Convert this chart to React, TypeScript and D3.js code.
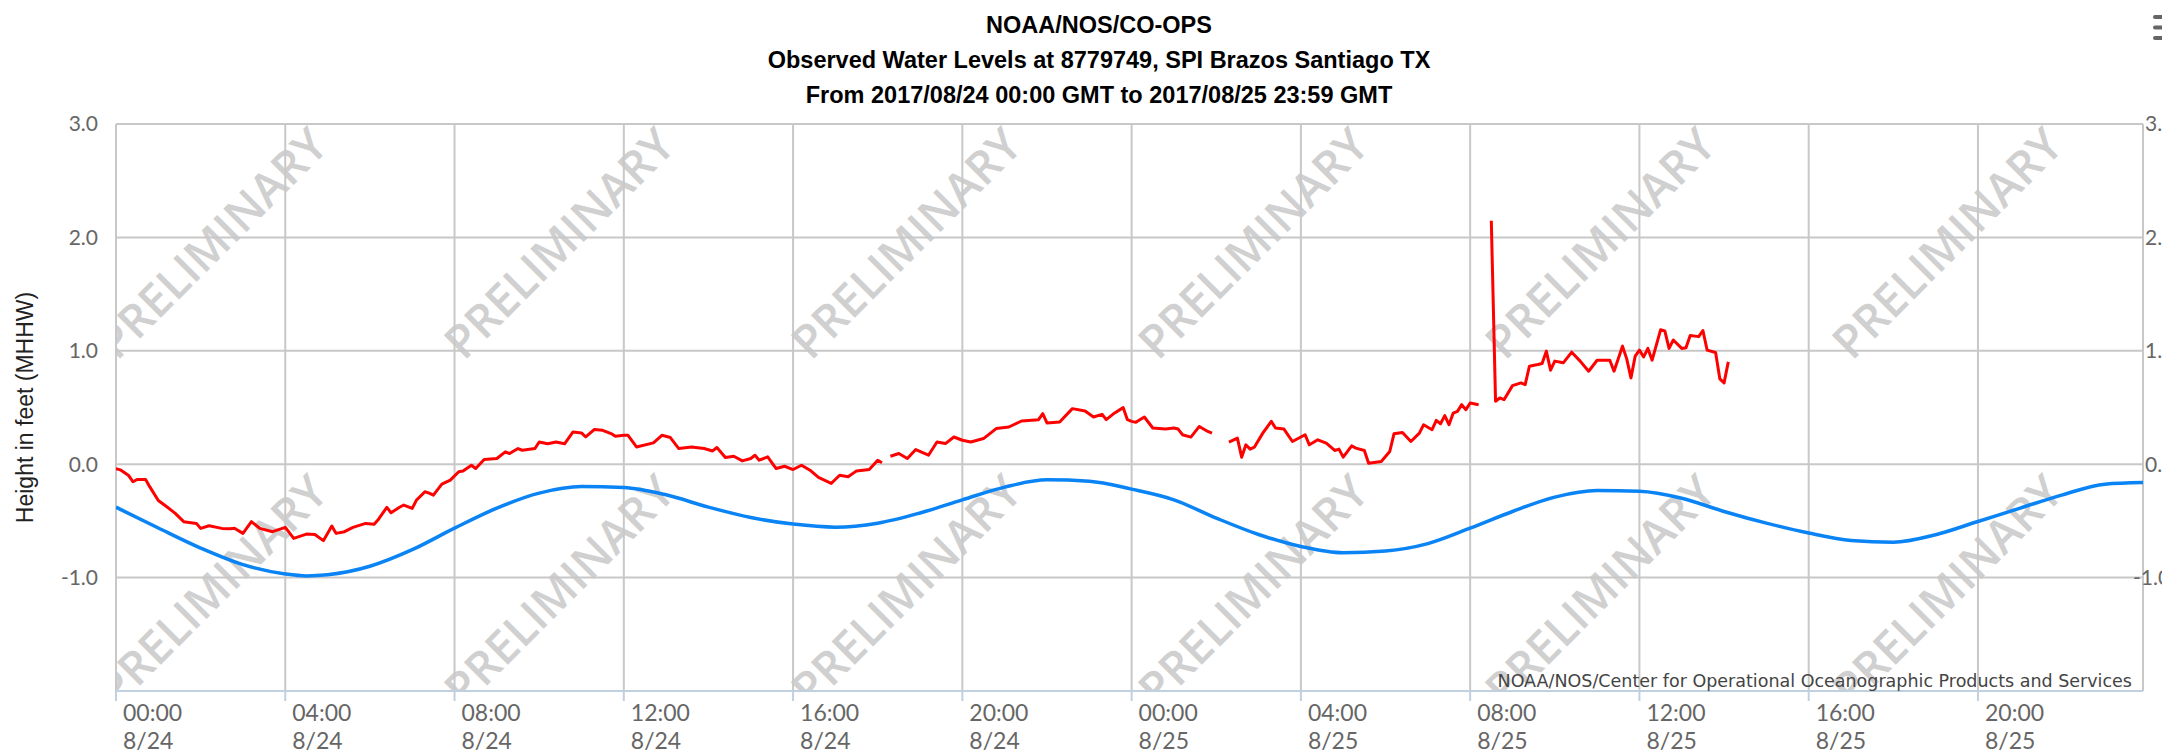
import React from "react";
import * as d3 from "d3";

// ---------- data ----------
const TITLE_LINES = [
  "NOAA/NOS/CO-OPS",
  "Observed Water Levels at 8779749, SPI Brazos Santiago TX",
  "From 2017/08/24 00:00 GMT to 2017/08/25 23:59 GMT",
];
const Y_TITLE = "Height in feet (MHHW)";
const CREDIT = "NOAA/NOS/Center for Operational Oceanographic Products and Services";
const WATERMARK = "PRELIMINARY";

const X_START = "2017-08-24 00:00";
const X_END = "2017-08-25 23:54";
const Y_TICKS = [-2, -1, 0, 1, 2, 3];
const Y_LABELS = [-1, 0, 1, 2, 3];

// Predicted tide (blue), GMT
const PRED_TIMES = [
  "24 00:00", "24 01:00", "24 02:00", "24 03:00", "24 04:00", "24 04:30", "24 05:00", "24 06:00",
  "24 07:00", "24 08:00", "24 09:00", "24 10:00", "24 11:00", "24 12:00", "24 13:00", "24 14:00",
  "24 15:00", "24 16:00", "24 17:00", "24 18:00", "24 19:00", "24 20:00", "24 21:00", "24 22:00",
  "24 23:00", "25 00:00", "25 01:00", "25 02:00", "25 03:00", "25 04:00", "25 05:00", "25 06:00",
  "25 07:00", "25 08:00", "25 09:00", "25 10:00", "25 11:00", "25 12:00", "25 13:00", "25 14:00",
  "25 15:00", "25 16:00", "25 17:00", "25 18:00", "25 19:00", "25 20:00", "25 21:00", "25 22:00",
  "25 23:00", "25 23:54",
];
const PRED_VALUES = [
  -0.379, -0.563, -0.74, -0.886, -0.968, -0.985, -0.975, -0.9,
  -0.754, -0.564, -0.387, -0.255, -0.197, -0.205, -0.27, -0.379,
  -0.47, -0.528, -0.555, -0.52, -0.43, -0.314, -0.202, -0.138,
  -0.15, -0.22, -0.314, -0.475, -0.62, -0.725, -0.78, -0.765,
  -0.7, -0.564, -0.417, -0.29, -0.232, -0.238, -0.3, -0.417,
  -0.52, -0.607, -0.672, -0.688, -0.622, -0.505, -0.387, -0.27,
  -0.176, -0.162,
];

// Observed water level (red), GMT; null = missing data
const OBS_TIMES = [
  "24 00:00", "24 00:06", "24 00:18", "24 00:24", "24 00:30", "24 00:42", "24 00:48", "24 01:00",
  "24 01:12", "24 01:24", "24 01:36", "24 01:54", "24 02:00", "24 02:12", "24 02:30", "24 02:42",
  "24 02:48", "24 03:00", "24 03:12", "24 03:24", "24 03:42", "24 04:00", "24 04:12", "24 04:30",
  "24 04:42", "24 04:54", "24 05:06", "24 05:12", "24 05:24", "24 05:36", "24 05:54", "24 06:06",
  "24 06:12", "24 06:24", "24 06:30", "24 06:42", "24 06:48", "24 07:00", "24 07:06", "24 07:18",
  "24 07:24", "24 07:30", "24 07:42", "24 07:54", "24 08:06", "24 08:12", "24 08:24", "24 08:30",
  "24 08:42", "24 09:00", "24 09:12", "24 09:18", "24 09:30", "24 09:36", "24 09:54", "24 10:00",
  "24 10:12", "24 10:24", "24 10:36", "24 10:48", "24 11:00", "24 11:06", "24 11:18", "24 11:30",
  "24 11:42", "24 11:48", "24 12:00", "24 12:06", "24 12:18", "24 12:42", "24 12:54", "24 13:06",
  "24 13:18", "24 13:36", "24 13:54", "24 14:06", "24 14:12", "24 14:24", "24 14:36", "24 14:48",
  "24 15:00", "24 15:06", "24 15:12", "24 15:24", "24 15:36", "24 15:48", "24 16:00", "24 16:12",
  "24 16:24", "24 16:36", "24 16:54", "24 17:06", "24 17:18", "24 17:30", "24 17:48", "24 18:00",
  "24 18:06", "24 18:12", "24 18:18", "24 18:30", "24 18:42", "24 18:54", "24 19:12", "24 19:24",
  "24 19:36", "24 19:48", "24 20:00", "24 20:12", "24 20:30", "24 20:48", "24 21:06", "24 21:24",
  "24 21:48", "24 21:54", "24 22:00", "24 22:18", "24 22:36", "24 22:54", "24 23:06", "24 23:18",
  "24 23:24", "24 23:36", "24 23:48", "24 23:54",
  "25 00:00", "25 00:06", "25 00:18", "25 00:30", "25 00:48", "25 01:00", "25 01:06", "25 01:12",
  "25 01:24", "25 01:36", "25 01:48", "25 01:54", "25 02:00", "25 02:18", "25 02:30", "25 02:36",
  "25 02:42", "25 02:48", "25 02:54", "25 03:06", "25 03:18", "25 03:24", "25 03:36", "25 03:48",
  "25 04:06", "25 04:12", "25 04:24", "25 04:36", "25 04:48", "25 04:54", "25 05:00", "25 05:12",
  "25 05:18", "25 05:30", "25 05:36", "25 05:54", "25 06:06", "25 06:12", "25 06:24", "25 06:36",
  "25 06:48", "25 06:54", "25 07:06", "25 07:12", "25 07:18", "25 07:24", "25 07:30", "25 07:36",
  "25 07:42", "25 07:48", "25 07:54", "25 08:00", "25 08:12", "25 08:18", "25 08:30", "25 08:36",
  "25 08:42", "25 08:48", "25 09:00", "25 09:12", "25 09:18", "25 09:24", "25 09:36", "25 09:42",
  "25 09:48", "25 09:54", "25 10:00", "25 10:12", "25 10:24", "25 10:36", "25 10:48", "25 11:00",
  "25 11:18", "25 11:24", "25 11:36", "25 11:42", "25 11:48", "25 11:54", "25 12:00", "25 12:06",
  "25 12:12", "25 12:18", "25 12:30", "25 12:36", "25 12:42", "25 12:48", "25 13:00", "25 13:06",
  "25 13:12", "25 13:24", "25 13:30", "25 13:36", "25 13:48", "25 13:54", "25 14:00", "25 14:06",
];
const OBS_VALUES: (number | null)[] = [
  -0.04, -0.05, -0.1, -0.155, -0.135, -0.135, -0.2, -0.32,
  -0.375, -0.434, -0.507, -0.522, -0.566, -0.543, -0.566, -0.57,
  -0.565, -0.61, -0.507, -0.566, -0.595, -0.557, -0.654, -0.616,
  -0.62, -0.674, -0.545, -0.61, -0.595, -0.557, -0.522, -0.53,
  -0.487, -0.381, -0.428, -0.38, -0.36, -0.39, -0.317, -0.243,
  -0.255, -0.273, -0.176, -0.141, -0.067, -0.06, -0.009, -0.038,
  0.041, 0.05, 0.109, 0.094, 0.138, 0.123, 0.138, 0.196,
  0.18, 0.196, 0.18, 0.284, 0.276, 0.24, 0.305, 0.299,
  0.27, 0.246, 0.255, 0.255, 0.152, 0.188, 0.255, 0.235,
  0.138, 0.152, 0.138, 0.117, 0.147, 0.059, 0.07, 0.029,
  0.05, 0.079, 0.035, 0.065, -0.038, -0.018, -0.047, -0.009,
  -0.053, -0.117, -0.17, -0.097, -0.111, -0.059, -0.047, 0.035,
  0.012, null, 0.07, 0.094, 0.05, 0.129, 0.079, 0.196,
  0.182, 0.24, 0.211, 0.196, 0.226, 0.314, 0.328, 0.381,
  0.393, 0.446, 0.364, 0.372, 0.49, 0.469, 0.416, 0.44,
  0.393, 0.452, 0.499, 0.393,
  0.378, 0.369, 0.416, 0.319, 0.31, 0.319, 0.31, 0.26,
  0.239, 0.333, 0.289, 0.274, null, 0.195, 0.23, 0.062,
  0.171, 0.133, 0.15, 0.274, 0.378, 0.319, 0.31, 0.2,
  0.26, 0.171, 0.215, 0.186, 0.121, 0.133, 0.062, 0.162,
  0.142, 0.121, 0.009, 0.024, 0.112, 0.268, 0.28, 0.2,
  0.274, 0.348, 0.304, 0.386, 0.357, 0.428, 0.348, 0.451,
  0.466, 0.525, 0.481, 0.54, 0.525, null, 2.147, 0.555,
  0.584, 0.569, 0.693, 0.717, 0.702, 0.864, 0.879, 0.888,
  0.997, 0.829, 0.909, 0.894, 0.988, 0.909, 0.82, 0.917,
  0.917, 0.82, 1.041, 0.929, 0.761, 0.953, 1.006, 0.946,
  1.021, 0.917, 1.185, 1.176, 1.021, 1.095, 1.021, 1.027,
  1.134, 1.125, 1.179, 1.006, 0.985, 0.753, 0.717, 0.902,
];

// ---------- layout ----------
const W = 2162;
const H = 751;
const M = { left: 116, right: 2143, top: 124, bottom: 691 };

const parseFull = d3.utcParse("%Y-%m-%d %H:%M");
const parseShort = (s: string) => parseFull("2017-08-" + s) as Date;

export default function App() {
  const x = d3
    .scaleUtc()
    .domain([parseFull(X_START) as Date, parseFull(X_END) as Date])
    .range([M.left, M.right]);
  const y = d3.scaleLinear().domain([-2, 3]).range([M.bottom, M.top]);

  const xTicks = x.ticks(d3.utcHour.every(4) as d3.TimeInterval);
  const fmtTime = d3.utcFormat("%H:%M");
  const fmtDate = (d: Date) => `${d.getUTCMonth() + 1}/${d.getUTCDate()}`;

  const pred = PRED_TIMES.map((t, i) => ({ t: parseShort(t), v: PRED_VALUES[i] }));
  const obs = OBS_TIMES.map((t, i) => ({ t: parseShort(t), v: OBS_VALUES[i] }));

  const predLine = d3
    .line<{ t: Date; v: number }>()
    .x((d) => x(d.t))
    .y((d) => y(d.v))
    .curve(d3.curveMonotoneX);
  const obsLine = d3
    .line<{ t: Date; v: number | null }>()
    .defined((d) => d.v !== null)
    .x((d) => x(d.t))
    .y((d) => y(d.v as number));

  // watermark lattice
  const wmSpacing = 347;
  const wmCols = d3.range(-1, 7).map((i) => 212 + i * wmSpacing);
  const wmRows = [243, 243 + wmSpacing];

  const labelFont = "Lato, 'Open Sans', sans-serif";

  return (
    <svg
      width={W}
      height={H}
      style={{ position: "absolute", left: 0, top: 0, background: "#fff" }}
    >
      <defs>
        <clipPath id="plot">
          <rect x={M.left} y={M.top} width={M.right - M.left} height={M.bottom - M.top} />
        </clipPath>
      </defs>

      {/* watermark */}
      <g clipPath="url(#plot)">
        {wmRows.map((ry) =>
          wmCols.map((cx) => (
            <text
              key={`${cx}-${ry}`}
              transform={`translate(${cx},${ry}) rotate(-45)`}
              textAnchor="middle"
              dy="0.36em"
              fontFamily="'Open Sans', sans-serif"
              fontWeight={600}
              fontSize={46}
              fill="#d0d0d0"
            >
              {WATERMARK}
            </text>
          ))
        )}
      </g>

      {/* horizontal grid */}
      {Y_TICKS.filter((v) => v > -2).map((v) => (
        <line
          key={`hg${v}`}
          x1={M.left}
          x2={M.right}
          y1={y(v)}
          y2={y(v)}
          stroke="#c8c8c8"
          strokeWidth={2}
        />
      ))}
      {/* vertical grid */}
      {xTicks.map((d) => (
        <line
          key={`vg${+d}`}
          x1={x(d)}
          x2={x(d)}
          y1={M.top}
          y2={M.bottom}
          stroke="#c8c8c8"
          strokeWidth={2}
        />
      ))}
      <line x1={M.right} x2={M.right} y1={M.top} y2={M.bottom} stroke="#c8c8c8" strokeWidth={2} />

      {/* x axis line + ticks */}
      <line x1={M.left} x2={M.right} y1={M.bottom} y2={M.bottom} stroke="#c0d0e0" strokeWidth={2} />
      {xTicks.map((d) => (
        <line
          key={`xt${+d}`}
          x1={x(d)}
          x2={x(d)}
          y1={M.bottom}
          y2={M.bottom + 10}
          stroke="#c0d0e0"
          strokeWidth={2}
        />
      ))}

      {/* series */}
      <g clipPath="url(#plot)">
        <path d={predLine(pred) || ""} fill="none" stroke="#0a84f5" strokeWidth={3.5} strokeLinejoin="round" />
        <path d={obsLine(obs) || ""} fill="none" stroke="#ff0000" strokeWidth={3} strokeLinejoin="round" />
      </g>

      {/* credit */}
      <text
        x={2132}
        y={687}
        textAnchor="end"
        fontFamily="'DejaVu Sans', Verdana, sans-serif"
        fontSize={17.5}
        fill="#444"
      >
        {CREDIT}
      </text>

      {/* x labels */}
      {xTicks.map((d) => (
        <g key={`xl${+d}`} fontFamily={labelFont} fontSize={23} fill="#666">
          <text x={x(d) + 7} y={721}>
            {fmtTime(d)}
          </text>
          <text x={x(d) + 7} y={749}>
            {fmtDate(d)}
          </text>
        </g>
      ))}

      {/* y labels left */}
      {Y_LABELS.map((v) => (
        <text
          key={`yl${v}`}
          x={98}
          y={y(v)}
          dy="0.35em"
          textAnchor="end"
          fontFamily={labelFont}
          fontSize={21}
          fill="#666"
        >
          {v.toFixed(1)}
        </text>
      ))}
      {/* y labels right (cut by the window edge, as in the original) */}
      {Y_LABELS.map((v) => (
        <text
          key={`yr${v}`}
          x={v < 0 ? 2133 : 2145}
          y={y(v)}
          dy="0.35em"
          textAnchor="start"
          fontFamily={labelFont}
          fontSize={21}
          fill="#666"
        >
          {v.toFixed(1)}
        </text>
      ))}

      {/* y title */}
      <text
        transform={`translate(33,${(M.top + M.bottom) / 2}) rotate(-90)`}
        textAnchor="middle"
        fontFamily="'Liberation Sans', Arial, sans-serif"
        fontSize={23}
        fill="#222"
      >
        {Y_TITLE}
      </text>

      {/* title */}
      {TITLE_LINES.map((s, i) => (
        <text
          key={`t${i}`}
          x={1099}
          y={33 + i * 35}
          textAnchor="middle"
          fontFamily="'Liberation Sans', Arial, sans-serif"
          fontWeight="bold"
          fontSize={23.5}
          fill="#000"
        >
          {s}
        </text>
      ))}

      {/* menu icon */}
      {[0, 1, 2].map((i) => (
        <rect key={`m${i}`} x={2153} y={15 + i * 10.5} width={20} height={4} rx={2} fill="#666" />
      ))}
    </svg>
  );
}
